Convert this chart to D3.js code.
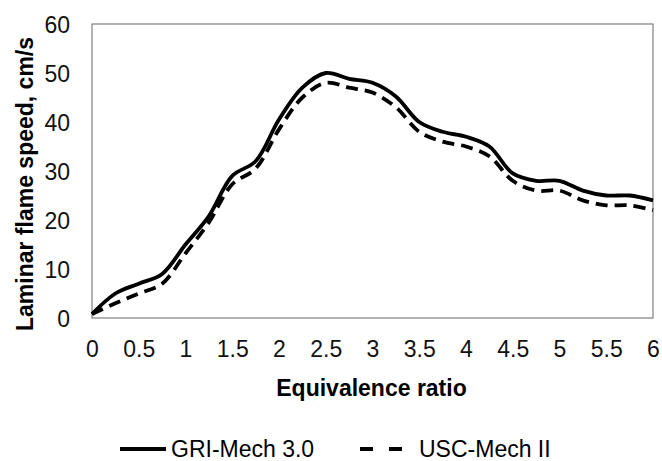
<!DOCTYPE html>
<html>
<head>
<meta charset="utf-8">
<script src="https://cdn.jsdelivr.net/npm/d3@7"></script>
<style>
  html, body { margin: 0; padding: 0; background: #fff; }
  svg { display: block; font-family: "Liberation Sans", Arial, sans-serif; }
</style>
</head>
<body>
<svg id="chart" width="662" height="461"></svg>
<script>
// ---- data ----
const phi = [0, 0.25, 0.5, 0.75, 1.0, 1.25, 1.5, 1.75, 2.0, 2.25, 2.5, 2.75, 3.0,
             3.25, 3.5, 3.75, 4.0, 4.25, 4.5, 4.75, 5.0, 5.25, 5.5, 5.75, 6.0];
const griMech = [0.8, 5.0, 7.0, 9.0, 15.0, 20.8, 29.0, 32.0, 40.5, 47.0, 50.0, 48.8, 48.0,
                 45.2, 40.0, 38.0, 37.0, 35.0, 29.5, 28.0, 28.0, 26.0, 25.0, 25.0, 24.0];
const uscMech = [0.8, 3.0, 5.0, 7.0, 13.2, 19.5, 27.3, 30.5, 38.5, 45.0, 48.0, 47.0, 46.0,
                 43.0, 38.0, 36.0, 35.0, 33.0, 28.0, 26.0, 26.0, 24.0, 23.0, 23.0, 22.0];
const xTicks = [0, 0.5, 1, 1.5, 2, 2.5, 3, 3.5, 4, 4.5, 5, 5.5, 6];
const yTicks = [0, 10, 20, 30, 40, 50, 60];
const seriesNames = ["GRI-Mech 3.0", "USC-Mech II"];
const xTitle = "Equivalence ratio";
const yTitle = "Laminar flame speed, cm/s";

// ---- layout ----
const svg = d3.select("#chart");
const L = 92, R = 653, T = 24, B = 318;
const x = d3.scaleLinear().domain([0, 6]).range([L, R]);
const y = d3.scaleLinear().domain([0, 60]).range([B, T]);

// frame
svg.append("rect")
  .attr("x", L).attr("y", T).attr("width", R - L).attr("height", B - T)
  .attr("fill", "none").attr("stroke", "#7f7f7f").attr("stroke-width", 1.2);

// axes (labels only)
const xAxis = d3.axisBottom(x).tickValues(xTicks).tickSize(0).tickPadding(0)
  .tickFormat(d => String(d));
const gx = svg.append("g").attr("transform", `translate(0,${B})`).call(xAxis);
gx.select(".domain").remove();
gx.selectAll("text").attr("font-size", 23).attr("fill", "#111")
  .attr("font-family", "'Liberation Sans', Arial, sans-serif")
  .attr("dy", null).attr("y", 39);

const yAxis = d3.axisLeft(y).tickValues(yTicks).tickSize(0).tickPadding(0)
  .tickFormat(d => String(d));
const gy = svg.append("g").attr("transform", `translate(70,0)`).call(yAxis);
gy.select(".domain").remove();
gy.selectAll("text").attr("font-size", 23).attr("fill", "#111")
  .attr("font-family", "'Liberation Sans', Arial, sans-serif")
  .attr("x", 0).attr("dy", "0.36em");

// titles
svg.append("text").attr("x", (271 + 472) / 2).attr("y", 396)
  .attr("text-anchor", "middle").attr("font-size", 23).attr("font-weight", "bold")
  .text(xTitle);
svg.append("text").attr("transform", "translate(33,184) rotate(-90)")
  .attr("text-anchor", "middle").attr("font-size", 23).attr("font-weight", "bold")
  .text(yTitle);

// lines
const line = d3.line().x(d => x(d[0])).y(d => y(d[1])).curve(d3.curveCatmullRom.alpha(0.5));
const griData = phi.map((p, i) => [p, griMech[i]]);
const uscData = phi.map((p, i) => [p, uscMech[i]]);

svg.append("path").datum(uscData).attr("d", line)
  .attr("fill", "none").attr("stroke", "#000").attr("stroke-width", 3.8)
  .attr("stroke-dasharray", "12,7");
svg.append("path").datum(griData).attr("d", line)
  .attr("fill", "none").attr("stroke", "#000").attr("stroke-width", 3.8);

// legend
const lg = svg.append("g");
lg.append("line").attr("x1", 120).attr("x2", 166).attr("y1", 449).attr("y2", 449)
  .attr("stroke", "#000").attr("stroke-width", 3.8);
lg.append("text").attr("x", 171).attr("y", 457).attr("font-size", 23).text(seriesNames[0]);
lg.append("line").attr("x1", 360).attr("x2", 402).attr("y1", 449).attr("y2", 449)
  .attr("stroke", "#000").attr("stroke-width", 3.8).attr("stroke-dasharray", "13,16");
lg.append("text").attr("x", 419).attr("y", 457).attr("font-size", 23).text(seriesNames[1]);
</script>
</body>
</html>
